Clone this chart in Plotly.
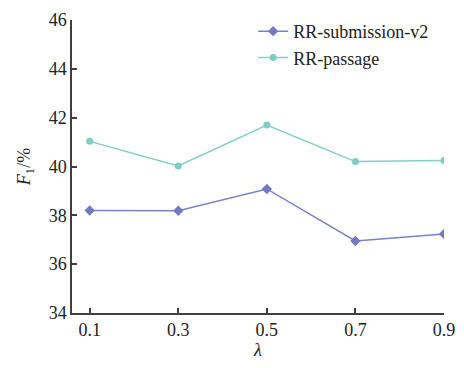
import plotly.graph_objects as go

lambdas = [0.1, 0.3, 0.5, 0.7, 0.9]
rr_submission_v2 = [38.20, 38.19, 39.08, 36.95, 37.24]
rr_passage = [41.03, 40.02, 41.70, 40.20, 40.25]
x_ticks = [0.1, 0.3, 0.5, 0.7, 0.9]
x_tick_labels = ["0.1", "0.3", "0.5", "0.7", "0.9"]
y_ticks = [34, 36, 38, 40, 42, 44, 46]

font_family = "Times New Roman"

fig = go.Figure()
fig.add_trace(go.Scatter(
    x=lambdas, y=rr_submission_v2, name="RR-submission-v2",
    mode="lines+markers",
    line=dict(color="#7b80c6", width=1.5),
    marker=dict(symbol="diamond", size=8, color="#7479c0"),
))
fig.add_trace(go.Scatter(
    x=lambdas, y=rr_passage, name="RR-passage",
    mode="lines+markers",
    line=dict(color="#84cfc4", width=1.5),
    marker=dict(symbol="circle", size=7, color="#7fcdc2"),
))

axis_common = dict(
    showline=True, linecolor="#404040", linewidth=1.5,
    ticks="inside", ticklen=5, tickcolor="#404040", tickwidth=1.5,
    showgrid=False, zeroline=False, automargin=False,
    tickfont=dict(family=font_family, size=18, color="#222"),
)

# page body has an 8px default margin, so the figure is sized to fit inside the window
fig.update_layout(
    width=448, height=352,
    margin=dict(l=64, r=12, t=12, b=47, autoexpand=False),
    paper_bgcolor="white", plot_bgcolor="white",
    font=dict(family=font_family, size=18, color="#222"),
    xaxis=dict(range=[0.06, 0.9], tickvals=x_ticks, ticktext=x_tick_labels,
               ticklabeloverflow="allow",
               title=dict(text="<i>λ</i>", standoff=15, font=dict(family=font_family, size=18)),
               **axis_common),
    yaxis=dict(range=[34, 46], tickvals=y_ticks,
               title=dict(text="<i>F</i><sub>1</sub>/%", standoff=13, font=dict(family=font_family, size=18)),
               **axis_common),
    legend=dict(x=0.487, y=1.024, xanchor="left", yanchor="top",
                bgcolor="rgba(0,0,0,0)", font=dict(family=font_family, size=18),
                itemwidth=30, tracegroupgap=2),
    showlegend=True,
)

fig.write_html("out.html")
